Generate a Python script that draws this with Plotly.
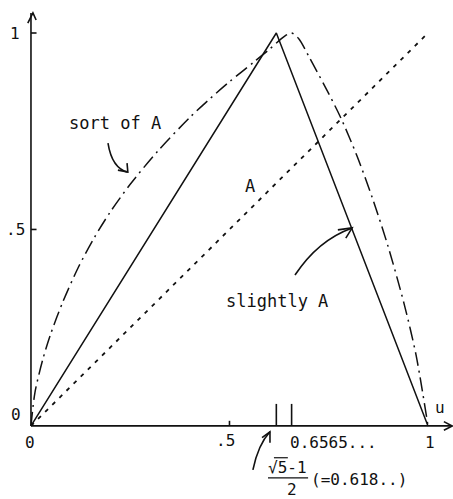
import plotly.graph_objects as go

# Membership curves over the unit interval u in [0, 1]
peak_golden = 0.618          # (sqrt(5) - 1) / 2
peak_sort = 0.6565

# "slightly A": triangle peaking at the golden ratio conjugate
tri_u = [0, peak_golden, 1]
tri_v = [0, 1, 0]

# "A": the identity
lin_u = [0, 1]
lin_v = [0, 1]

# "sort of A": concave rise to 0.6565, then a fall to 1
sort_u = [0, 0.01, 0.03, 0.05, 0.08, 0.12, 0.16, 0.20, 0.25, 0.32, 0.40, 0.45,
          0.50, 0.56, 0.60, 0.63, 0.645, 0.6565, 0.675, 0.70, 0.74, 0.78,
          0.82, 0.86, 0.90, 0.94, 0.97, 1.0]
sort_v = [0, 0.085, 0.17, 0.235, 0.315, 0.405, 0.48, 0.545, 0.615, 0.70, 0.785,
          0.832, 0.876, 0.925, 0.958, 0.985, 0.996, 1.0, 0.985, 0.94, 0.865,
          0.785, 0.69, 0.58, 0.455, 0.31, 0.18, 0.0]

y_ticks = [0.5, 1]
y_tick_text = [".5", "1"]
x_ticks = [0.5]
x_marks = [peak_golden, peak_sort]

INK = "#111111"
MONO = "DejaVu Sans Mono"

fig = go.Figure()
fig.add_trace(go.Scatter(x=sort_u, y=sort_v, mode="lines",
                         line=dict(color=INK, width=1.5, dash="14px,5px,2px,5px",
                                   shape="spline", smoothing=0.8)))
fig.add_trace(go.Scatter(x=tri_u, y=tri_v, mode="lines",
                         line=dict(color=INK, width=1.5)))
fig.add_trace(go.Scatter(x=lin_u, y=lin_v, mode="lines",
                         line=dict(color=INK, width=1.8, dash="4px,6px")))

line_style = dict(color=INK, width=1.6)

# axes with arrowheads
fig.add_shape(type="line", x0=0, y0=0, x1=0, y1=1.051, line=line_style)
fig.add_shape(type="line", x0=0, y0=0, x1=1.061, y1=0, line=line_style)
fig.add_shape(type="path", path="M -0.008,1.025 L 0.005,1.051 L 0.013,1.033", line=line_style)
fig.add_shape(type="path", path="M 1.040,0.011 L 1.061,0 L 1.040,-0.011", line=line_style)

# tick marks
for t in y_ticks:
    fig.add_shape(type="line", x0=0, y0=t, x1=0.014, y1=t, line=line_style)
for t in x_ticks:
    fig.add_shape(type="line", x0=t, y0=0, x1=t, y1=0.013, line=line_style)
for t in x_marks:
    fig.add_shape(type="line", x0=t, y0=0, x1=t, y1=0.056, line=line_style)

font = dict(family=MONO, size=16, color=INK)
label_font = dict(family=MONO, size=17, color=INK)

def text(x, y, s, f=font, **kw):
    fig.add_annotation(x=x, y=y, text=s, showarrow=False, font=f,
                       xanchor="center", yanchor="middle", **kw)

# tick labels
for t, s in zip(y_ticks, y_tick_text):
    text(-0.040, t, s)
text(-0.038, 0.028, "0")
text(-0.003, -0.043, "0")
text(0.491, -0.036, ".5")
text(1.005, -0.041, "1")
text(0.761, -0.043, "0.6565...")
text(1.030, 0.048, "u")

# curve labels
text(0.212, 0.771, "sort of A", label_font)
text(0.552, 0.611, "A", label_font)
text(0.620, 0.318, "slightly A", label_font)

# golden ratio fraction
text(0.647, -0.107, "√5-1")
fig.add_shape(type="line", x0=0.612, y0=-0.081, x1=0.647, y1=-0.081,
              line=dict(color=INK, width=1.2))
fig.add_shape(type="line", x0=0.597, y0=-0.132, x1=0.698, y1=-0.132,
              line=dict(color=INK, width=1.2))
text(0.657, -0.163, "2")
text(0.826, -0.137, "(=0.618..)")

# curved pointer arrows
fig.add_shape(type="path", path="M 0.194,0.720 Q 0.204,0.656 0.244,0.646", line=line_style)
fig.add_shape(type="path", path="M 0.219,0.651 L 0.244,0.646 L 0.242,0.669", line=line_style)

fig.add_shape(type="path", path="M 0.665,0.384 Q 0.723,0.473 0.809,0.504", line=line_style)
fig.add_shape(type="path", path="M 0.773,0.499 L 0.809,0.504 L 0.793,0.478", line=line_style)

fig.add_shape(type="path", path="M 0.559,-0.112 Q 0.572,-0.048 0.602,-0.015", line=line_style)
fig.add_shape(type="path", path="M 0.582,-0.030 L 0.602,-0.015 L 0.602,-0.043", line=line_style)

fig.update_layout(
    width=453, height=499,
    margin=dict(l=0, r=0, t=0, b=0),
    paper_bgcolor="white", plot_bgcolor="white",
    showlegend=False,
    xaxis=dict(range=[-0.078, 1.063], visible=False, fixedrange=True),
    yaxis=dict(range=[-0.186, 1.084], visible=False, fixedrange=True),
)

fig.write_html("out.html")
